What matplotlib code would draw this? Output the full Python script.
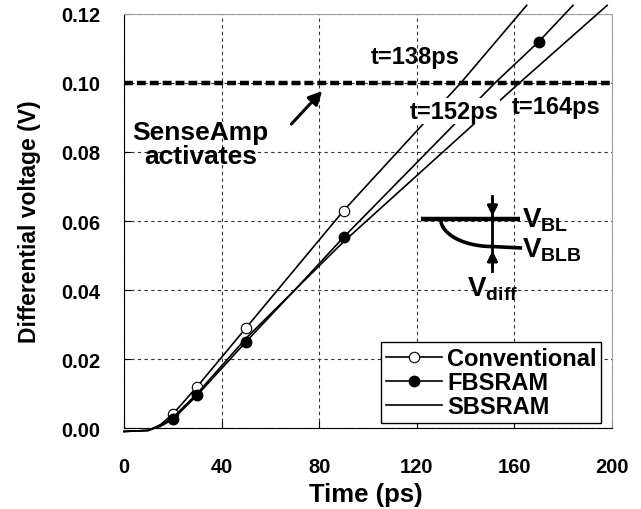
import numpy as np
import matplotlib
matplotlib.use("Agg")
import matplotlib.pyplot as plt
from matplotlib.lines import Line2D

plt.rcParams['font.family'] = ['Liberation Sans', 'DejaVu Sans']
plt.rcParams['font.weight'] = 'bold'
plt.rcParams['mathtext.fontset'] = 'custom'
plt.rcParams['mathtext.rm'] = 'Liberation Sans:bold'
plt.rcParams['mathtext.it'] = 'Liberation Sans:bold'
plt.rcParams['mathtext.bf'] = 'Liberation Sans:bold'

# --- data ---
conv_t = [0, 10, 15, 20, 30, 50, 70, 90, 138, 165]
conv_v = [-0.001, -0.0007, 0.001, 0.004, 0.012, 0.029, 0.046, 0.063, 0.100, 0.1225]
conv_marks = [3, 4, 5, 7]

fb_t = [0, 10, 15, 20, 30, 50, 70, 90, 152, 170, 184]
fb_v = [-0.001, -0.0007, 0.0005, 0.0025, 0.0095, 0.025, 0.040, 0.0553, 0.100, 0.112, 0.1225]
fb_marks = [3, 4, 5, 7, 9]

sb_t = [0, 10, 15, 20, 30, 50, 70, 90, 162, 198]
sb_v = [-0.001, -0.0007, 0.0008, 0.003, 0.010, 0.026, 0.040, 0.054, 0.100, 0.1225]

x_ticks = [0, 40, 80, 120, 160, 200]
y_ticks = [0.00, 0.02, 0.04, 0.06, 0.08, 0.10, 0.12]
sense_level = 0.10

fig = plt.figure(figsize=(6.41, 5.10), dpi=100)
ax = fig.add_axes([0.1934, 0.1588, 0.7614, 0.8118])

ax.plot(conv_t, conv_v, color='black', lw=1.2, marker='o', markevery=conv_marks,
        ms=7.5, mfc='white', mec='black', mew=0.8, clip_on=False, zorder=4)
ax.plot(fb_t, fb_v, color='black', lw=1.2, marker='o', markevery=fb_marks,
        ms=7.5, mfc='black', mec='black', clip_on=False, zorder=4)
ax.plot(sb_t, sb_v, color='black', lw=1.2, clip_on=False, zorder=4)

# sense amp threshold
ax.plot([0, 200], [sense_level, sense_level], color='black', lw=3.2,
        dashes=(2.0, 0.9), zorder=3)

ax.set_xlim(0, 200)
ax.set_ylim(0, 0.12)
ax.set_xticks(x_ticks)
ax.set_yticks(y_ticks)
ax.set_yticklabels([f"{v:.2f}" for v in y_ticks])
ax.tick_params(direction='in', length=5, width=0.8, labelsize=14.5)
ax.tick_params(axis='y', pad=17)
ax.tick_params(axis='x', pad=21)
ax.grid(True, color='#333333', lw=0.8, dashes=(3, 3))

for s in ['left', 'bottom']:
    ax.spines[s].set_color('black')
for s in ['top', 'right']:
    ax.spines[s].set_color('#a0a0a0')

ax.set_xlabel('Time (ps)', fontsize=18.5, fontweight='bold')
ax.set_ylabel('Differential voltage (V)', fontsize=16.5, fontweight='bold')
ax.xaxis.set_label_coords(0.495, -0.13)
ax.xaxis.label.set_va('top')
ax.yaxis.set_label_coords(-0.17, 0.5)

# annotations
ax.text(101, 0.1078, 't=138ps', fontsize=17, ha='left', va='center', zorder=5)
ax.text(117, 0.0918, 't=152ps', fontsize=17, ha='left', va='center', zorder=5,
        bbox=dict(facecolor='white', edgecolor='none', pad=1))
ax.text(159, 0.0933, 't=164ps', fontsize=17, ha='left', va='center', zorder=5)
ax.text(31.5, 0.0822, 'SenseAmp\nactivates', fontsize=19, ha='center', va='center',
        linespacing=1.0, zorder=5)
ax.annotate('', xy=(82, 0.0983), xytext=(67.8, 0.0875),
            arrowprops=dict(arrowstyle='-|>', color='black', lw=2.2, mutation_scale=20))

# inset sketch of bit-line voltages
ax.plot([121.6, 162.4], [0.0606, 0.0606], color='black', lw=3.2, solid_capstyle='butt')
th = np.linspace(0, np.pi / 2, 40)
arc_t = 151 - (151 - 129.8) * np.cos(th)
arc_v = 0.0606 - (0.0606 - 0.0526) * np.sin(th)
ax.plot(list(arc_t) + [162.4], list(arc_v) + [0.0522], color='black', lw=2.6)
ax.plot([151, 151], [0.0672, 0.0455], color='black', lw=2.0)
ax.annotate('', xy=(151, 0.0606), xytext=(151, 0.0672),
            arrowprops=dict(arrowstyle='-|>', color='black', lw=2.0, mutation_scale=15))
ax.annotate('', xy=(151, 0.0522), xytext=(151, 0.0455),
            arrowprops=dict(arrowstyle='-|>', color='black', lw=2.0, mutation_scale=15))
ax.text(163.2, 0.0606, r'$\mathrm{V_{BL}}$', fontsize=20, ha='left', va='center')
ax.text(163.2, 0.0517, r'$\mathrm{V_{BLB}}$', fontsize=20, ha='left', va='center')
ax.text(151, 0.0405, r'$\mathrm{V_{diff}}$', fontsize=20, ha='center', va='center')

handles = [
    Line2D([], [], color='black', lw=1.2, marker='o', ms=7.5, mfc='white', mec='black', mew=0.8),
    Line2D([], [], color='black', lw=1.2, marker='o', ms=7.5, mfc='black', mec='black'),
    Line2D([], [], color='black', lw=1.2),
]
leg = ax.legend(handles, ['Conventional', 'FBSRAM', 'SBSRAM'], loc='lower right',
                bbox_to_anchor=(0.978, 0.012), fontsize=17, frameon=True, fancybox=False,
                edgecolor='black', framealpha=1, handlelength=2.4, handletextpad=0.2,
                labelspacing=0.05, borderpad=0.2, borderaxespad=0)
leg.get_frame().set_linewidth(1.0)
leg.set_zorder(6)

fig.savefig('out.png', dpi=100)
